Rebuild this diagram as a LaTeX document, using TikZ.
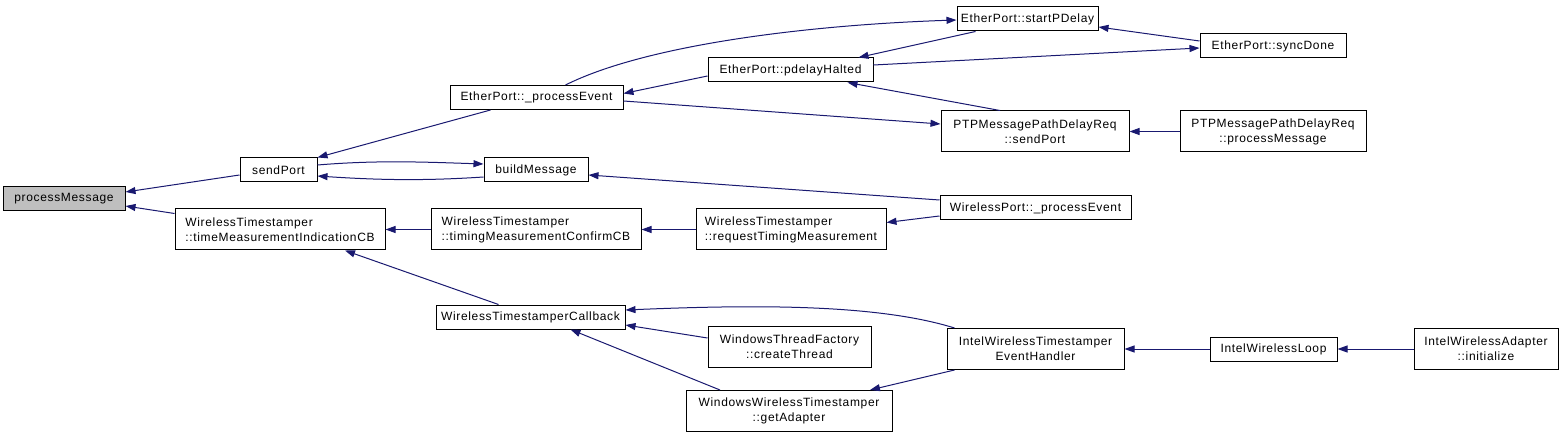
\documentclass[tikz,border=0pt]{standalone}
\usepackage{fontspec}
\setmainfont{Liberation Sans}[LetterSpace=5.5]
\usetikzlibrary{arrows.meta}
\definecolor{call-blue}{HTML}{191970}
\definecolor{root-gray}{HTML}{BFBFBF}

\begin{document}
\begin{tikzpicture}[x=1pt, y=-1pt,
    every node/.style={font=\fontsize{12}{15}\selectfont},
    fn/.style={draw, line width=1pt, fill=white, inner sep=0pt, minimum height=24pt},
    fn2/.style={fn, minimum height=41pt},
    call/.style={draw=call-blue, line width=1pt, -{Triangle[length=10pt,width=7pt]}}]
      \useasboundingbox (0,0) rectangle (1563,438);
      % functions
      \node[fn, fill=root-gray, minimum width=122pt] (pm) at (64,199) {processMessage};
      \node[fn, minimum width=77pt] (sp) at (278.5,170) {sendPort};
      \node[fn2, minimum width=210pt, align=left] (tmi) at (280,229.5)
        {WirelessTimestamper\\::timeMeasurementIndicationCB};
      \node[fn, minimum width=173pt] (pe) at (536.5,97.5) {EtherPort::\_processEvent};
      \node[fn, minimum width=104pt] (bm) at (536,170) {buildMessage};
      \node[fn2, minimum width=210pt, align=left] (tmc) at (536,229.5)
        {WirelessTimestamper\\::timingMeasurementConfirmCB};
      \node[fn, minimum width=189pt] (cb) at (530.5,317) {WirelessTimestamperCallback};
      \node[fn, minimum width=141pt] (spd) at (1027.5,19) {EtherPort::startPDelay};
      \node[fn, minimum width=165pt] (ph) at (790.5,70) {EtherPort::pdelayHalted};
      \node[fn, minimum width=146pt] (sd) at (1273,46) {EtherPort::syncDone};
      \node[fn2, minimum width=188pt, align=center] (ptps) at (1035,131.5)
        {PTPMessagePathDelayReq\\::sendPort};
      \node[fn2, minimum width=186pt, align=center] (ptpm) at (1273,131.5)
        {PTPMessagePathDelayReq\\::processMessage};
      \node[fn, minimum width=191pt] (wpe) at (1035.5,208) {WirelessPort::\_processEvent};
      \node[fn2, minimum width=190pt, align=left] (rtm) at (791,229.5)
        {WirelessTimestamper\\::requestTimingMeasurement};
      \node[fn2, minimum width=163pt, align=center] (ct) at (789.5,347)
        {WindowsThreadFactory\\::createThread};
      \node[fn2, minimum width=206pt, align=center] (ga) at (789,411)
        {WindowsWirelessTimestamper\\::getAdapter};
      \node[fn2, minimum width=177pt, align=center] (iwt) at (1035.5,349)
        {IntelWirelessTimestamper\\EventHandler};
      \node[fn, minimum width=127pt] (iwl) at (1273.5,349) {IntelWirelessLoop};
      \node[fn2, minimum width=144pt, align=center] (iwa) at (1486,349)
        {IntelWirelessAdapter\\::initialize};
      % calls
      \draw[call] ([yshift=-5pt]sp.west) -- ([yshift=7pt]pm.east);
      \draw[call] ([yshift=16pt]tmi.west) -- ([yshift=-7pt]pm.east);
      \draw[call] ([xshift=-46pt]pe.south) -- (sp.north east);
      \draw[call] ([yshift=5pt]sp.east) .. controls +(60,-5) and +(-60,-2) .. ([yshift=6pt]bm.west);
      \draw[call] ([yshift=-7pt]bm.west) .. controls +(-60,4) and +(60,4) .. ([yshift=-6pt]sp.east);
      \draw[call] (tmc) -- (tmi);
      \draw[call] ([xshift=-32pt]cb.north) -- ([xshift=65pt]tmi.south);
      \draw[call] ([yshift=-6pt]ph.west) -- ([yshift=4pt]pe.east);
      \draw[call] ([xshift=29pt]pe.north) .. controls +(80,-40) and +(-150,5) .. ([yshift=-1pt]spd.west);
      \draw[call] ([yshift=-3.5pt]pe.east) -- ([yshift=7.5pt]ptps.west);
      \draw[call] ([xshift=-52pt]spd.south) -- ([xshift=68pt]ph.north);
      \draw[call] ([xshift=-35pt]ptps.north) -- ([xshift=57pt]ph.south);
      \draw[call] ([yshift=5pt]ph.east) -- ([yshift=-2pt]sd.west);
      \draw[call] ([yshift=5pt]sd.west) -- ([yshift=-8pt]spd.east);
      \draw[call] (ptpm) -- (ptps);
      \draw[call] ([yshift=8pt]wpe.west) -- ([yshift=-5pt]bm.east);
      \draw[call] ([yshift=-8pt]wpe.west) -- ([yshift=7pt]rtm.east);
      \draw[call] (rtm) -- (tmc);
      \draw[call] ([xshift=8pt]iwt.north west) .. controls +(-80,-25) and +(120,-5) .. ([yshift=7pt]cb.east);
      \draw[call] ([yshift=9pt]ct.west) -- ([yshift=-8pt]cb.east);
      \draw[call] ([xshift=-69pt]ga.north) -- ([xshift=40pt]cb.south);
      \draw[call] ([xshift=8pt]iwt.south west) -- ([xshift=81pt]ga.north);
      \draw[call] (iwl) -- (iwt);
      \draw[call] (iwa) -- (iwl);
    \end{tikzpicture}
\end{document}
